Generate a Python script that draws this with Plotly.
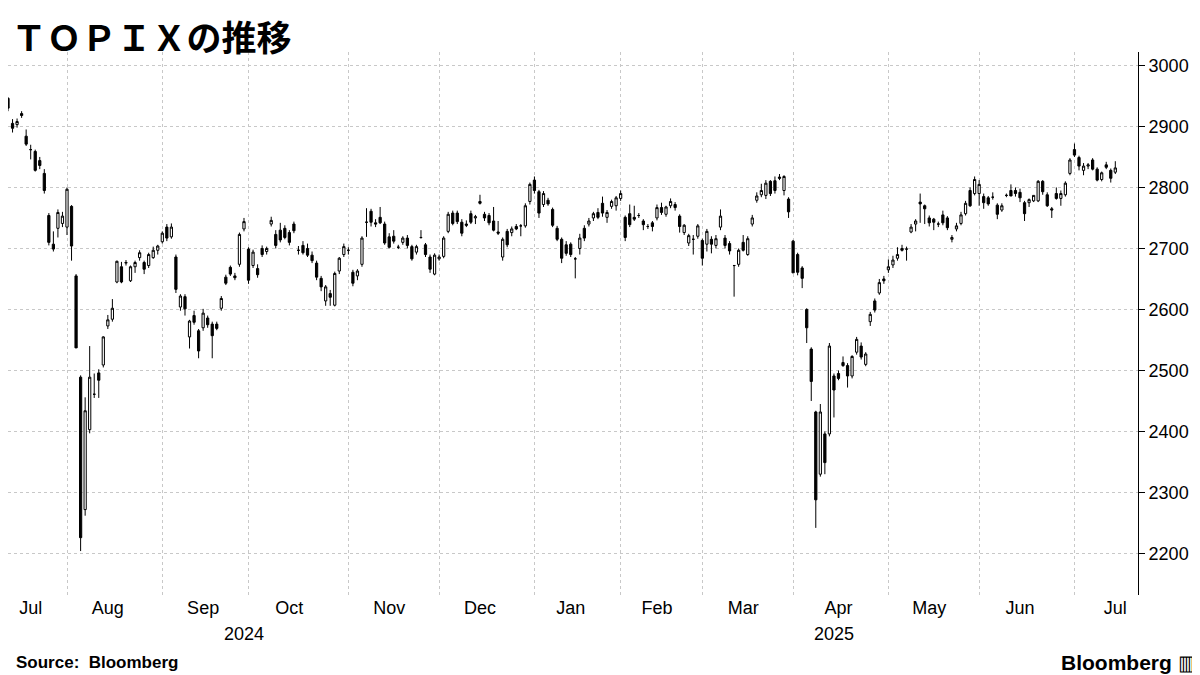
from plotly import graph_objs as go
import pandas as pd

# daily candles (open, high, low, close) in order
jul_oct_2024 = [
    (2946, 2948, 2925, 2930), (2905, 2912, 2890, 2897), (2903, 2913, 2898, 2908), (2921, 2925, 2914, 2918),
    (2884, 2895, 2868, 2871), (2862, 2870, 2846, 2862), (2859, 2862, 2826, 2828), (2844, 2850, 2830, 2836),
    (2823, 2830, 2790, 2795), (2754, 2758, 2705, 2710), (2707, 2728, 2695, 2699), (2733, 2764, 2718, 2759),
    (2741, 2760, 2735, 2753), (2735, 2800, 2722, 2797), (2769, 2771, 2680, 2704), (2655, 2658, 2537, 2537),
    (2489, 2492, 2204, 2226), (2272, 2456, 2262, 2434), (2403, 2540, 2397, 2489), (2461, 2495, 2455, 2461),
    (2496, 2502, 2455, 2484), (2509, 2556, 2505, 2555), (2573, 2591, 2568, 2583), (2584, 2617, 2580, 2602),
    (2645, 2680, 2643, 2679), (2670, 2678, 2643, 2645), (2676, 2681, 2672, 2677), (2647, 2672, 2645, 2670),
    (2670, 2680, 2660, 2677), (2685, 2697, 2680, 2693), (2677, 2680, 2658, 2666), (2672, 2693, 2668, 2690),
    (2685, 2703, 2683, 2697), (2697, 2706, 2690, 2704), (2711, 2728, 2708, 2725), (2735, 2740, 2712, 2717),
    (2719, 2741, 2716, 2735), (2686, 2690, 2627, 2633), (2604, 2625, 2598, 2622), (2621, 2625, 2590, 2601),
    (2555, 2583, 2536, 2581), (2590, 2598, 2575, 2579), (2565, 2568, 2520, 2532), (2570, 2601, 2565, 2594),
    (2586, 2590, 2570, 2575), (2576, 2580, 2520, 2557), (2576, 2580, 2566, 2569), (2602, 2622, 2598, 2618),
    (2653, 2657, 2640, 2643), (2669, 2672, 2655, 2658), (2655, 2660, 2648, 2652), (2674, 2726, 2670, 2723),
    (2732, 2750, 2728, 2744), (2699, 2702, 2642, 2648), (2672, 2698, 2668, 2694), (2667, 2674, 2652, 2657),
    (2700, 2705, 2686, 2690), (2695, 2703, 2690, 2700), (2740, 2752, 2736, 2746), (2723, 2730, 2700, 2705),
    (2730, 2742, 2710, 2714), (2733, 2738, 2715, 2718), (2726, 2730, 2705, 2710), (2740, 2744, 2725, 2729),
    (2697, 2704, 2690, 2697), (2705, 2712, 2690, 2693),
]
oct_jan = [
    (2700, 2708, 2686, 2689), (2689, 2695, 2676, 2680), (2676, 2680, 2648, 2653), (2651, 2655, 2630, 2637),
    (2614, 2640, 2606, 2637), (2626, 2632, 2606, 2620), (2607, 2662, 2605, 2659), (2663, 2686, 2658, 2684),
    (2690, 2708, 2686, 2703), (2697, 2702, 2690, 2697), (2661, 2665, 2638, 2643), (2655, 2666, 2648, 2663),
    (2674, 2720, 2670, 2717), (2743, 2766, 2719, 2743), (2761, 2765, 2736, 2743), (2742, 2748, 2735, 2740),
    (2751, 2768, 2740, 2742), (2740, 2744, 2706, 2709), (2719, 2725, 2700, 2702), (2720, 2730, 2708, 2712),
    (2702, 2706, 2699, 2702), (2710, 2720, 2706, 2717), (2717, 2722, 2700, 2705), (2703, 2706, 2680, 2683),
    (2694, 2706, 2690, 2703), (2718, 2730, 2716, 2718), (2706, 2709, 2686, 2690), (2686, 2690, 2660, 2666),
    (2658, 2692, 2656, 2689), (2683, 2690, 2680, 2686), (2687, 2720, 2684, 2717), (2728, 2760, 2725, 2756),
    (2758, 2762, 2738, 2741), (2758, 2762, 2740, 2744), (2743, 2748, 2720, 2725), (2740, 2746, 2735, 2738),
    (2757, 2762, 2740, 2743), (2750, 2755, 2740, 2752), (2777, 2788, 2772, 2774), (2756, 2760, 2745, 2750),
    (2754, 2758, 2738, 2742), (2745, 2768, 2728, 2730), (2727, 2745, 2722, 2725), (2686, 2718, 2680, 2715),
    (2728, 2732, 2702, 2706), (2726, 2736, 2720, 2732), (2736, 2740, 2730, 2732), (2737, 2740, 2720, 2737),
    (2737, 2774, 2734, 2770), (2777, 2808, 2772, 2805), (2812, 2818, 2790, 2795), (2793, 2796, 2750, 2758),
    (2772, 2794, 2768, 2790), (2779, 2783, 2770, 2773), (2764, 2767, 2735, 2738), (2733, 2737, 2712, 2715),
    (2715, 2718, 2676, 2684), (2706, 2712, 2688, 2692), (2707, 2710, 2686, 2690), (2683, 2686, 2651, 2683),
    (2700, 2724, 2690, 2717), (2733, 2738, 2712, 2717), (2740, 2750, 2736, 2745), (2750, 2760, 2745, 2757),
]
feb_mar_2025 = [
    (2759, 2766, 2748, 2751), (2774, 2785, 2752, 2758), (2751, 2763, 2742, 2759), (2769, 2780, 2765, 2777),
    (2770, 2786, 2762, 2783), (2782, 2795, 2778, 2790), (2751, 2754, 2712, 2718), (2757, 2772, 2735, 2739),
    (2751, 2770, 2745, 2748), (2754, 2758, 2750, 2754), (2745, 2748, 2730, 2739), (2736, 2740, 2732, 2736),
    (2742, 2745, 2728, 2736), (2750, 2772, 2746, 2767), (2767, 2775, 2755, 2759), (2756, 2770, 2752, 2768),
    (2770, 2782, 2766, 2777), (2772, 2776, 2762, 2767), (2753, 2756, 2726, 2736), (2726, 2740, 2722, 2738),
    (2709, 2724, 2704, 2721), (2715, 2722, 2690, 2715), (2720, 2740, 2716, 2737), (2713, 2716, 2672, 2684),
    (2707, 2732, 2695, 2728), (2715, 2720, 2692, 2707), (2705, 2722, 2700, 2716), (2735, 2764, 2730, 2753),
    (2717, 2722, 2700, 2705), (2708, 2712, 2690, 2696), (2672, 2673, 2621, 2672), (2674, 2700, 2670, 2697),
    (2710, 2722, 2695, 2697), (2690, 2720, 2688, 2716), (2740, 2755, 2736, 2750), (2779, 2792, 2775, 2786),
    (2788, 2806, 2784, 2795), (2787, 2812, 2781, 2807), (2810, 2812, 2786, 2790), (2811, 2818, 2790, 2795),
    (2817, 2822, 2812, 2815), (2795, 2820, 2787, 2818), (2781, 2784, 2750, 2760),
]
apr_2025 = [
    (2712, 2714, 2660, 2660), (2690, 2693, 2656, 2661), (2668, 2671, 2635, 2651), (2600, 2602, 2545, 2570),
    (2535, 2538, 2450, 2482), (2432, 2434, 2242, 2288), (2330, 2445, 2326, 2432), (2396, 2400, 2330, 2349),
    (2396, 2545, 2392, 2540), (2491, 2495, 2423, 2468), (2495, 2500, 2484, 2487), (2513, 2523, 2506, 2508),
    (2508, 2512, 2472, 2491), (2491, 2525, 2487, 2523), (2530, 2555, 2526, 2551), (2540, 2546, 2518, 2522),
    (2510, 2530, 2507, 2527), (2580, 2596, 2573, 2592), (2614, 2618, 2595, 2599), (2627, 2650, 2624, 2644),
]
may_jul_2025 = [
    (2650, 2655, 2642, 2647), (2665, 2682, 2660, 2670), (2673, 2688, 2668, 2681), (2684, 2702, 2680, 2690),
    (2700, 2706, 2695, 2697), (2699, 2703, 2680, 2699), (2727, 2740, 2725, 2735), (2740, 2748, 2728, 2745),
    (2776, 2790, 2742, 2773), (2770, 2772, 2740, 2765), (2750, 2754, 2736, 2742), (2748, 2750, 2730, 2743),
    (2740, 2744, 2735, 2740), (2755, 2762, 2738, 2742), (2750, 2753, 2730, 2734), (2715, 2722, 2710, 2718),
    (2732, 2742, 2728, 2737), (2741, 2760, 2738, 2755), (2757, 2778, 2754, 2774), (2795, 2800, 2768, 2770),
    (2790, 2818, 2787, 2813), (2790, 2812, 2770, 2805), (2785, 2790, 2765, 2775), (2783, 2786, 2770, 2773),
    (2784, 2792, 2780, 2784), (2771, 2774, 2748, 2756), (2763, 2774, 2760, 2770), (2787, 2790, 2784, 2787),
    (2795, 2805, 2786, 2786), (2795, 2800, 2785, 2790), (2792, 2798, 2776, 2783), (2775, 2778, 2745, 2757),
    (2775, 2782, 2768, 2780), (2778, 2787, 2776, 2787), (2778, 2812, 2776, 2810), (2810, 2812, 2788, 2793),
    (2788, 2792, 2768, 2770), (2765, 2768, 2750, 2763), (2790, 2800, 2780, 2782), (2782, 2795, 2770, 2790),
    (2788, 2810, 2785, 2807), (2823, 2848, 2820, 2845), (2862, 2872, 2850, 2853), (2849, 2852, 2828, 2835),
    (2828, 2840, 2820, 2835), (2835, 2840, 2830, 2837), (2845, 2848, 2828, 2830), (2830, 2833, 2810, 2812),
    (2813, 2826, 2810, 2824), (2837, 2842, 2830, 2833), (2828, 2831, 2808, 2815), (2825, 2843, 2822, 2832),
]

jp_holidays = ["2024-07-15", "2024-08-12", "2024-09-16", "2024-09-23", "2024-10-14", "2024-11-04",
               "2024-12-31", "2025-01-01", "2025-01-02", "2025-01-03", "2025-01-13", "2025-02-11",
               "2025-02-24", "2025-03-20", "2025-04-29", "2025-05-05", "2025-05-06"]

month_starts = ["2024-08-01", "2024-09-02", "2024-10-01", "2024-11-01", "2024-12-02", "2025-01-06",
                "2025-02-03", "2025-03-03", "2025-04-01", "2025-05-01", "2025-06-02", "2025-07-01"]
label_dates = ["2024-07-22", "2024-08-15", "2024-09-13", "2024-10-15", "2024-11-15", "2024-12-13",
               "2025-01-17", "2025-02-14", "2025-03-14", "2025-04-15", "2025-05-16", "2025-06-13",
               "2025-07-14"]
label_text = ["Jul", "Aug", "Sep", "Oct", "Nov", "Dec", "Jan", "Feb", "Mar", "Apr", "May", "Jun", "Jul"]

candles = jul_oct_2024 + oct_jan + feb_mar_2025 + apr_2025 + may_jul_2025
days = pd.bdate_range("2024-07-12", "2025-08-29")
days = days[~days.isin(pd.to_datetime(jp_holidays))][:len(candles)]
df = pd.DataFrame(candles, columns=["open", "high", "low", "close"], index=days)

fig = go.Figure(go.Candlestick(
    x=df.index, open=df["open"], high=df["high"], low=df["low"], close=df["close"],
    increasing=dict(line=dict(color="black", width=1), fillcolor="white"),
    decreasing=dict(line=dict(color="black", width=1), fillcolor="black"),
    whiskerwidth=0, showlegend=False, hoverinfo="x+y",
))

fig.update_layout(
    width=1200, height=675,
    margin=dict(l=0, r=70, t=44, b=88),
    paper_bgcolor="white", plot_bgcolor="white",
    font=dict(family="Liberation Sans, Arial", size=18, color="black"),
    title=dict(text="<b>ＴＯＰＩＸの推移</b>", x=0.003, xanchor="left", y=0.972, yanchor="top",
               font=dict(family="Noto Sans CJK JP", size=35, color="black")),
    xaxis=dict(
        type="date", range=[df.index[0], df.index[-1] + pd.Timedelta(days=7)],
        rangeslider=dict(visible=False),
        rangebreaks=[dict(bounds=["sat", "mon"]), dict(values=jp_holidays)],
        tickvals=label_dates, ticktext=label_text, showgrid=False,
        minor=dict(tickvals=month_starts, showgrid=True, gridcolor="#c8c8c8", griddash="dot", ticks=""),
        ticks="", showline=False, zeroline=False,
    ),
    yaxis=dict(
        side="right", range=[2132, 3022], dtick=100,
        showgrid=True, gridcolor="#c8c8c8", griddash="dot",
        ticks="outside", ticklen=6, tickcolor="black",
        showline=True, linecolor="black", linewidth=1, zeroline=False,
    ),
)

fig.add_annotation(x="2024-09-30", y=-0.072, xref="x", yref="paper", text="2024",
                   showarrow=False, yanchor="middle", font=dict(size=18))
fig.add_annotation(x="2025-04-14", y=-0.072, xref="x", yref="paper", text="2025",
                   showarrow=False, yanchor="middle", font=dict(size=18))
fig.add_annotation(x=0.005, y=-0.125, xref="paper", yref="paper", text="<b>Source:  Bloomberg</b>",
                   showarrow=False, xanchor="left", yanchor="middle", font=dict(size=17))
fig.add_annotation(x=1.055, y=-0.125, xref="paper", yref="paper", text="<b>Bloomberg</b> ▥",
                   showarrow=False, xanchor="right", yanchor="middle", font=dict(size=21))

fig.write_html("out.html")
